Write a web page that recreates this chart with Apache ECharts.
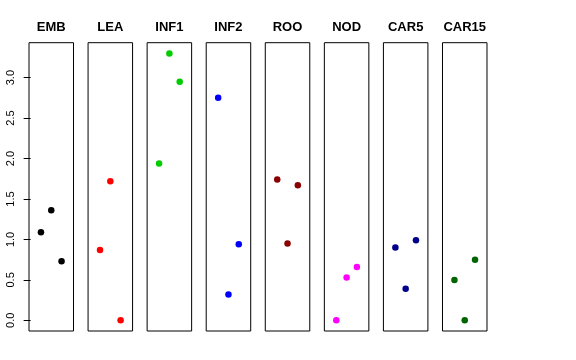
<!DOCTYPE html>
<html>
<head>
<meta charset="utf-8">
<script src="https://cdn.jsdelivr.net/npm/echarts@6/dist/echarts.min.js"></script>
<style>html,body{margin:0;padding:0;background:#fff}#c{width:576px;height:360px}</style>
</head>
<body>
<div id="c"></div>
<script>
const categories = ['EMB','LEA','INF1','INF2','ROO','NOD','CAR5','CAR15'];
const colors = ['#000000','#FF0000','#00CD00','#0000FF','#8B0000','#FF00FF','#00008B','#006400'];
const positions = [1, 2, 3];
const EMB = [1.09, 1.36, 0.73];
const LEA = [0.87, 1.72, 0.00];
const INF1 = [1.94, 3.30, 2.95];
const INF2 = [2.75, 0.32, 0.94];
const ROO = [1.74, 0.95, 1.67];
const NOD = [0.00, 0.53, 0.66];
const CAR5 = [0.90, 0.39, 0.99];
const CAR15 = [0.50, 0.00, 0.75];
const values = [EMB, LEA, INF1, INF2, ROO, NOD, CAR5, CAR15];
const yTicks = [0, 0.5, 1.0, 1.5, 2.0, 2.5, 3.0];

const panelLeft0 = 29, panelStep = 59.07, panelW = 44.5, panelTop = 42.7, panelH = 288.3;
const yMin = -0.132, yMax = 3.432;

const grids = [], xAxes = [], yAxes = [], series = [], texts = [];
categories.forEach((cat, i) => {
  const left = panelLeft0 + panelStep * i;
  grids.push({left: left, top: panelTop, width: panelW, height: panelH,
    show: true, borderColor: '#000', borderWidth: 1, backgroundColor: 'transparent'});
  xAxes.push({type: 'value', gridIndex: i, min: -0.16, max: 4.16, show: false});
  const ya = {type: 'value', gridIndex: i, min: yMin, max: yMax,
    splitLine: {show: false}, axisLine: {show: false}};
  if (i === 0) {
    ya.axisTick = {show: true, inside: false, length: 7, lineStyle: {color: '#000'}, customValues: yTicks};
    ya.axisLabel = {show: true, rotate: 90, margin: 13, color: '#000', fontSize: 11,
      fontFamily: 'Liberation Sans, Arial, sans-serif', customValues: yTicks,
      formatter: v => Number(v).toFixed(1)};
  } else {
    ya.axisTick = {show: false};
    ya.axisLabel = {show: false};
  }
  yAxes.push(ya);
  series.push({type: 'scatter', xAxisIndex: i, yAxisIndex: i, symbol: 'circle', symbolSize: 6.5,
    itemStyle: {color: colors[i], opacity: 1}, silent: true,
    data: positions.map((p, k) => [p, values[i][k]])});
  texts.push({type: 'text', x: left + panelW / 2, y: 33.5, silent: true,
    style: {text: cat, textAlign: 'center', textVerticalAlign: 'bottom', fill: '#000',
      font: 'bold 13px "Liberation Sans", Arial, sans-serif'}});
});

const chart = echarts.init(document.getElementById('c'), null, {renderer: 'canvas'});
chart.setOption({animation: false, graphic: texts, grid: grids, xAxis: xAxes, yAxis: yAxes, series: series});
</script>
</body>
</html>
